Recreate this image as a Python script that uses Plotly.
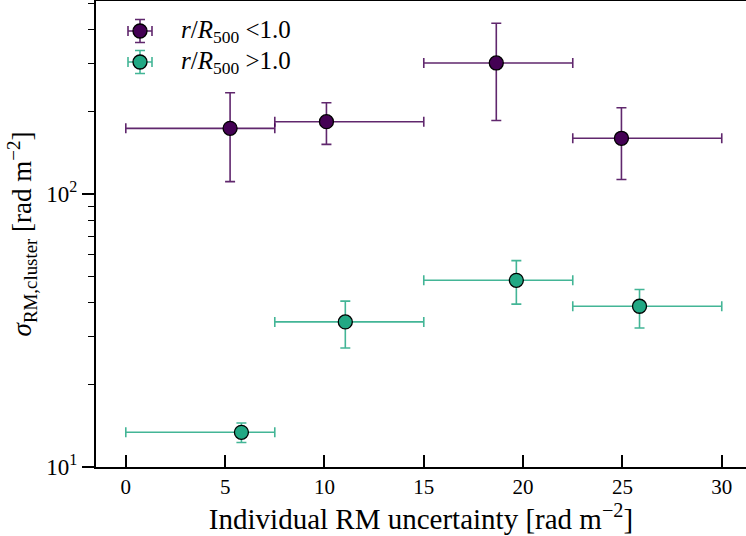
import plotly.graph_objects as go
import numpy as np

# ---- data ----
bin_edges = [0.0, 7.5, 15.0, 22.5, 30.0]

inner_x = [5.25, 10.1, 18.65, 24.95]
inner_y = [174, 184, 302, 160]
inner_y_hi = [235, 216, 422, 207]
inner_y_lo = [111, 152, 186, 113]

outer_x = [5.82, 11.05, 19.66, 25.86]
outer_y = [13.4, 34.0, 48.3, 38.8]
outer_y_hi = [14.5, 40.5, 57.0, 44.7]
outer_y_lo = [12.3, 27.3, 39.5, 32.3]

series_names = ["<i>r</i>/<i>R</i><sub>500</sub> &lt;1.0", "<i>r</i>/<i>R</i><sub>500</sub> &gt;1.0"]

y_major = [10, 100]
y_major_text = ["10<sup>1</sup>", "10<sup>2</sup>"]
y_minor = [20, 30, 40, 50, 60, 70, 80, 90, 200, 300, 400, 500]
x_ticks = [0, 5, 10, 15, 20, 25, 30]

# ---- styles ----
PURPLE = "#440154"
GREEN = "#22a884"
PURPLE_ERR = "rgba(68,1,84,0.85)"
GREEN_ERR = "rgba(34,168,132,0.85)"
FONT = "Liberation Serif"

fig = go.Figure()


def add_series(xs, ys, hi, lo, fill, ecol):
    xs = np.array(xs); ys = np.array(ys)
    lower = np.array(bin_edges[:-1]); upper = np.array(bin_edges[1:])
    fig.add_trace(go.Scatter(
        x=xs, y=ys, mode="markers", showlegend=False,
        marker=dict(size=14, color=fill, line=dict(color="black", width=1.3)),
        error_x=dict(type="data", symmetric=False, array=upper - xs, arrayminus=xs - lower,
                     color=ecol, thickness=1.6, width=5),
        error_y=dict(type="data", symmetric=False, array=np.array(hi) - ys,
                     arrayminus=ys - np.array(lo), color=ecol, thickness=1.6, width=5),
    ))


add_series(inner_x, inner_y, inner_y_hi, inner_y_lo, PURPLE, PURPLE_ERR)
add_series(outer_x, outer_y, outer_y_hi, outer_y_lo, GREEN, GREEN_ERR)

# ---- manual legend (pixel-coordinate overlay axis) ----
leg_x = [140, 140]
leg_y = [31, 62]
for i, (fill, ecol) in enumerate([(PURPLE, PURPLE_ERR), (GREEN, GREEN_ERR)]):
    fig.add_trace(go.Scatter(
        x=[leg_x[i]], y=[leg_y[i]], xaxis="x2", yaxis="y2", mode="markers", showlegend=False,
        marker=dict(size=14, color=fill, line=dict(color="black", width=1.3)),
        error_x=dict(type="constant", value=12, color=ecol, thickness=1.6, width=5),
        error_y=dict(type="constant", value=11.5, color=ecol, thickness=1.6, width=5),
        hoverinfo="skip",
    ))
    fig.add_annotation(x=179, y=leg_y[i], xref="x2", yref="y2", text=series_names[i],
                       showarrow=False, xanchor="left", yanchor="middle",
                       font=dict(family=FONT, size=25, color="black"))

fig.update_layout(
    width=746, height=536,
    margin=dict(l=96, r=0, t=1, b=69),
    plot_bgcolor="white", paper_bgcolor="white",
    font=dict(family=FONT, size=20, color="black"),
    xaxis=dict(
        range=[-1.5, 31.22], tickvals=x_ticks, ticks="inside", ticklen=12, tickwidth=1.5,
        tickcolor="black", showline=True, linecolor="black", linewidth=2, mirror=True,
        showgrid=False, zeroline=False, tickfont=dict(family=FONT, size=21),
        title=dict(text="Individual RM uncertainty [rad m<sup>−2</sup>]",
                   font=dict(family=FONT, size=29), standoff=3),
    ),
    yaxis=dict(
        type="log", range=[1, 2.707], tickvals=y_major, ticktext=y_major_text,
        ticks="outside", ticklen=12, tickwidth=1.5, tickcolor="black",
        minor=dict(tickvals=y_minor, ticks="outside", ticklen=6, tickwidth=1.2, tickcolor="black"),
        showline=True, linecolor="black", linewidth=2, showgrid=False, zeroline=False,
        tickfont=dict(family=FONT, size=23),
        title=dict(text="<i>σ</i><sub>RM,cluster</sub> [rad m<sup>−2</sup>]",
                   font=dict(family=FONT, size=27), standoff=7),
    ),
    xaxis2=dict(range=[96, 746], overlaying="x", visible=False, fixedrange=True),
    yaxis2=dict(range=[467, 1], overlaying="y", visible=False, fixedrange=True),
    showlegend=False,
)

fig.write_html("out.html")
